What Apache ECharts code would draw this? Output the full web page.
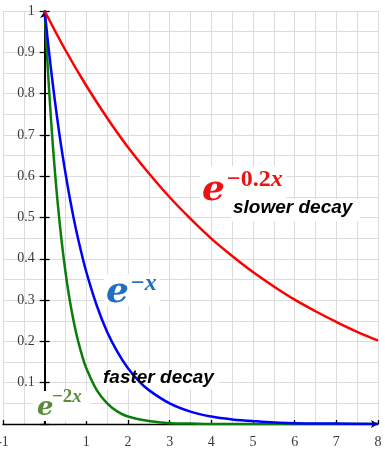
<!DOCTYPE html>
<html><head><meta charset="utf-8">
<script src="https://cdn.jsdelivr.net/npm/echarts@6/dist/echarts.min.js"></script>
<style>html,body{margin:0;padding:0;background:#fff}#c{width:385px;height:452px}</style>
</head><body><div id="c"></div>
<script>
// values
const redX = [0,0.5,1,1.5,2,2.5,3,3.5,4,4.5,5,5.5,6,6.5,7,7.5,8];
const redY = [1,0.905,0.819,0.741,0.670,0.607,0.549,0.497,0.449,0.407,0.368,0.333,0.301,0.273,0.247,0.223,0.202];
const blueX = [0,0.1,0.2,0.3,0.4,0.5,0.6,0.75,0.9,1,1.25,1.5,1.75,2,2.25,2.5,3,3.5,4,4.5,5,6,7,8];
const blueY = [1,0.905,0.819,0.741,0.670,0.607,0.549,0.472,0.407,0.368,0.287,0.223,0.174,0.135,0.105,0.082,0.050,0.030,0.018,0.011,0.007,0.002,0.001,0];
const greenX = [0,0.05,0.1,0.15,0.2,0.25,0.3,0.4,0.5,0.6,0.75,0.9,1,1.25,1.5,1.75,2,2.5,3,3.5,4,5,6,7,8];
const greenY = [1,0.905,0.819,0.741,0.670,0.607,0.549,0.449,0.368,0.301,0.223,0.165,0.135,0.082,0.050,0.030,0.018,0.007,0.002,0.001,0,0,0,0,0];
const xTickLabels = ['-1','1','2','3','4','5','6','7','8'];
const yTickLabels = ['0.1','0.2','0.3','0.4','0.5','0.6','0.7','0.8','0.9','1'];

const zip = (xs, ys) => xs.map((x, i) => [x, ys[i]]);
const chart = echarts.init(document.getElementById('c'), null, {renderer: 'canvas'});
const gridCol = '#dcdcdc';
const labelFont = {fontFamily: 'Liberation Serif', fontSize: 14, color: '#3a3a3a'};
const unitPx = (385 - 3 - 7) / 9;

const xBase = {type: 'value', min: -1, max: 8, gridIndex: 0, position: 'bottom'};
const yBase = {type: 'value', min: 0, max: 1, gridIndex: 0, position: 'left'};

const option = {
  animation: false,
  backgroundColor: '#fff',
  grid: {left: 3, right: 7, top: 11, bottom: 28, containLabel: false, outerBoundsMode: 'none'},
  xAxis: [
    Object.assign({}, xBase, {interval: 0.5, axisLine: {show: false}, axisTick: {show: false}, axisLabel: {show: false},
      splitLine: {show: true, lineStyle: {color: gridCol, width: 1}}}),
    Object.assign({}, xBase, {interval: 1,
      axisLine: {show: true, onZero: false, symbol: ['none', 'arrow'], symbolSize: [6, 7], lineStyle: {color: '#000', width: 1.3}},
      axisTick: {show: true, inside: true, length: 4, lineStyle: {color: '#000', width: 1.3}},
      axisLabel: Object.assign({show: true, margin: 11, showMinLabel: true, showMaxLabel: true,
        formatter: v => xTickLabels.find(s => +s === v) || ''}, labelFont),
      splitLine: {show: false}})
  ],
  yAxis: [
    Object.assign({}, yBase, {interval: 0.05, axisLine: {show: false}, axisTick: {show: false}, axisLabel: {show: false},
      splitLine: {show: true, lineStyle: {color: gridCol, width: 1}}}),
    Object.assign({}, yBase, {interval: 0.1, offset: -unitPx,
      axisLine: {show: true, onZero: false, symbol: ['none', 'arrow'], symbolSize: [7, 7], lineStyle: {color: '#000', width: 2}},
      axisTick: {show: true, inside: false, length: 5, lineStyle: {color: '#000', width: 1.3}},
      axisLabel: Object.assign({show: true, margin: 10, showMaxLabel: true, showMinLabel: true,
        formatter: v => yTickLabels[Math.round(v * 10) - 1] || ''}, labelFont),
      splitLine: {show: false}}),
    Object.assign({}, yBase, {interval: 0.1, offset: -unitPx,
      axisLine: {show: false, onZero: false},
      axisTick: {show: true, inside: true, length: 5, lineStyle: {color: '#000', width: 1.3}},
      axisLabel: {show: false}, splitLine: {show: false}})
  ],
  series: [
    {type: 'line', name: 'e^-2x', xAxisIndex: 0, yAxisIndex: 0, data: zip(greenX, greenY), showSymbol: false,
      smooth: 0.4, lineStyle: {color: '#0a7d0a', width: 2.5}, z: 2},
    {type: 'line', name: 'e^-x', xAxisIndex: 0, yAxisIndex: 0, data: zip(blueX, blueY), showSymbol: false,
      smooth: 0.4, lineStyle: {color: '#0000ff', width: 2.5}, z: 3},
    {type: 'line', name: 'e^-0.2x', xAxisIndex: 0, yAxisIndex: 0, data: zip(redX, redY), showSymbol: false,
      smooth: 0.4, lineStyle: {color: '#ff0000', width: 2.5}, z: 4}
  ],
  graphic: [
    {type: 'rect', z: 1, shape: {x: 200, y: 166, width: 86, height: 34}, style: {fill: '#fff'}},
    {type: 'rect', z: 1, shape: {x: 231, y: 199, width: 129, height: 22}, style: {fill: '#fff'}},
    {type: 'rect', z: 1, shape: {x: 104, y: 274, width: 56, height: 32}, style: {fill: '#fff'}},
    {type: 'rect', z: 1, shape: {x: 33, y: 391, width: 58, height: 30}, style: {fill: '#fff'}},
    {type: 'rect', z: 1, shape: {x: 101, y: 369, width: 118, height: 20}, style: {fill: '#fff'}},

    {type: 'text', z: 10, style: {x: 202, y: 191, text: 'e', textAlign: 'left', textVerticalAlign: 'middle',
      font: 'italic bold 36px "DejaVu Serif"', fill: '#ee1111'}},
    {type: 'text', z: 10, style: {x: 227, y: 180, text: '{n|−0.2}{v|x}', textAlign: 'left', textVerticalAlign: 'middle',
      rich: {n: {font: 'bold 24px "Liberation Serif"', fill: '#ee1111'}, v: {font: 'italic bold 24px "Liberation Serif"', fill: '#ee1111'}}}},
    {type: 'text', z: 10, style: {x: 233, y: 208, text: 'slower decay', textAlign: 'left', textVerticalAlign: 'middle',
      font: 'italic bold 19px "Liberation Sans"', fill: '#000'}},

    {type: 'text', z: 10, style: {x: 106, y: 293, text: 'e', textAlign: 'left', textVerticalAlign: 'middle',
      font: 'italic bold 36px "DejaVu Serif"', fill: '#1f6fc0'}},
    {type: 'text', z: 10, style: {x: 131, y: 284, text: '{n|−}{v|x}', textAlign: 'left', textVerticalAlign: 'middle',
      rich: {n: {font: 'bold 24px "Liberation Serif"', fill: '#1f6fc0'}, v: {font: 'italic bold 24px "Liberation Serif"', fill: '#1f6fc0'}}}},
    {type: 'text', z: 10, style: {x: 103, y: 378, text: 'faster decay', textAlign: 'left', textVerticalAlign: 'middle',
      font: 'italic bold 19px "Liberation Sans"', fill: '#000'}},

    {type: 'text', z: 10, style: {x: 37, y: 408, text: 'e', textAlign: 'left', textVerticalAlign: 'middle',
      font: 'italic bold 26px "DejaVu Serif"', fill: '#5a8c3c'}},
    {type: 'text', z: 10, style: {x: 52, y: 397, text: '{n|−2}{v|x}', textAlign: 'left', textVerticalAlign: 'middle',
      rich: {n: {font: 'bold 19px "Liberation Serif"', fill: '#5a8c3c'}, v: {font: 'italic bold 19px "Liberation Serif"', fill: '#5a8c3c'}}}}
  ]
};
chart.setOption(option);
</script>
</body></html>
